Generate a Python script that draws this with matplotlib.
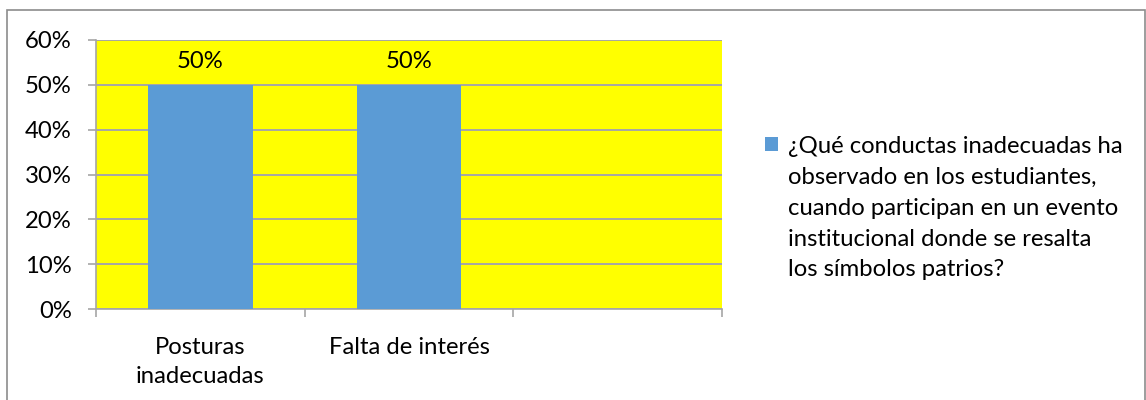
import numpy as np
import matplotlib
matplotlib.use("Agg")
import matplotlib.pyplot as plt
from matplotlib.patches import Rectangle
from matplotlib.legend_handler import HandlerPatch

categories = ["Posturas\ninadecuadas", "Falta de interés", ""]
values = [50, 50, np.nan]
series_label = ("¿Qué conductas inadecuadas ha\nobservado en los estudiantes,\n"
                "cuando participan en un evento\ninstitucional donde se resalta\n"
                "los símbolos patrios?")
yticks = [0, 10, 20, 30, 40, 50, 60]

W, H = 1146, 400
plt.rcParams['font.family'] = ['Lato', 'DejaVu Sans']
FS = 17.2
LEG_LS = 1.58


class TopSquareHandler(HandlerPatch):
    """Square legend key aligned to the first line of a multi-line label."""
    def __init__(self, shift_pts, **kw):
        super().__init__(**kw)
        self.shift = shift_pts

    def create_artists(self, legend, orig_handle, xdescent, ydescent,
                       width, height, fontsize, trans):
        p = Rectangle((-xdescent, -ydescent + self.shift), width, height,
                      facecolor=orig_handle.get_facecolor(), edgecolor='none',
                      transform=trans)
        return [p]


fig = plt.figure(figsize=(W / 100, H / 100), dpi=100)
ax = fig.add_axes([96 / W, 1 - 309 / H, (722 - 96) / W, (309 - 40) / H])
ax.set_facecolor('#FFFF00')

x = np.arange(len(categories))
bars = ax.bar(x, values, width=0.5, color='#5B9BD5', zorder=3, label=series_label)
for xi, v in zip(x, values):
    if not np.isnan(v):
        ax.text(xi, v + 5.3, f"{v:.0f}%", ha='center', va='center', fontsize=FS, zorder=4)

ax.set_xlim(-0.5, len(categories) - 0.5)
ax.set_ylim(0, 60)
ax.set_yticks(yticks)
ax.set_yticklabels([f"{t}%" for t in yticks], fontsize=FS)
ax.yaxis.grid(True, color='#A6A6A6', linewidth=1.4, zorder=1)
ax.set_axisbelow(True)

ax.set_xticks(np.arange(len(categories) + 1) - 0.5)
ax.set_xticklabels([])
ax.set_xticks(x, minor=True)
ax.set_xticklabels(categories, minor=True, fontsize=FS, linespacing=1.5)
ax.tick_params(axis='x', which='minor', length=0, pad=20)
ax.tick_params(axis='x', which='major', length=5.5, color='#A6A6A6', width=1.2)
ax.tick_params(axis='y', length=5.5, color='#A6A6A6', width=1.2, pad=12)

for s in ['top', 'right']:
    ax.spines[s].set_visible(False)
for s in ['left', 'bottom']:
    ax.spines[s].set_color('#A6A6A6')
    ax.spines[s].set_linewidth(1.2)

line_px = 32.0
shift_pts = 2 * line_px * 72 / 100
handle = bars.patches[0]
leg = fig.legend(handles=[handle], labels=[series_label], loc='upper left',
                 bbox_to_anchor=(765 / W, 1 - 136 / H), frameon=False,
                 fontsize=FS, handlelength=0.55, handleheight=0.55,
                 handletextpad=0.4, borderpad=0, borderaxespad=0,
                 handler_map={Rectangle: TopSquareHandler(shift_pts)})
for t in leg.get_texts():
    t.set_linespacing(LEG_LS)

fig.patches.append(Rectangle((7 / W, -0.05), (1145 - 7) / W, 1 - 10 / H + 0.05,
                             transform=fig.transFigure, fill=False,
                             edgecolor='#8C8C8C', linewidth=1.2, zorder=0))

fig.savefig("out.png", dpi=100)
